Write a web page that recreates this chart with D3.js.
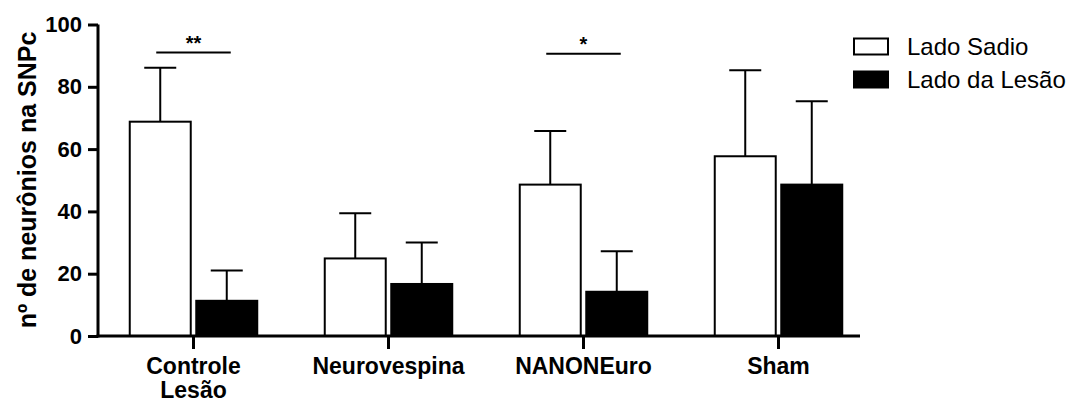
<!DOCTYPE html>
<html>
<head>
<meta charset="utf-8">
<script src="https://cdn.jsdelivr.net/npm/d3@7"></script>
<style>
  body { margin: 0; background: #fff; }
  svg { font-family: "Liberation Sans", Arial, sans-serif; }
  .axis path, .axis line { stroke: #000; stroke-width: 3; }
  .axis text { font-size: 22px; font-weight: bold; fill: #000; }
</style>
</head>
<body>
<svg width="1074" height="403"></svg>
<script>
// data
var categories = ['Controle\nLesão', 'Neurovespina', 'NANONEuro', 'Sham'];
var series = ['Lado Sadio', 'Lado da Lesão'];
var sadioMean = [68.8, 24.9, 48.6, 57.7];
var sadioErr = [17.3, 14.5, 17.2, 27.6];
var lesaoMean = [11.3, 16.7, 14.2, 48.6];
var lesaoErr = [9.7, 13.3, 13.0, 26.8];
var yTicks = [0, 20, 40, 60, 80, 100];
var sigGroups = ['Controle\nLesão', 'NANONEuro'];
var sigLabels = ['**', '*'];
var sigLevel = [91, 90.6];

var svg = d3.select('svg');

var x = d3.scaleBand().domain(categories).range([96, 876]);
var xSub = d3.scaleBand().domain(series).range([0, 127.5]).paddingInner(0.083);
var groupOffset = (x.bandwidth() - 127.5) / 2;
var y = d3.scaleLinear().domain([0, 100]).range([336, 24.5]);

var rows = [];
categories.forEach(function(c, i){
    rows.push({cat: c, s: series[0], v: sadioMean[i], e: sadioErr[i]});
    rows.push({cat: c, s: series[1], v: lesaoMean[i], e: lesaoErr[i]});
});

function barX(d) { return x(d.cat) + groupOffset + xSub(d.s); }

// error bars (upper only)
var err = svg.selectAll('.err').data(rows).enter().append('g')
    .attr('class', 'err')
    .attr('stroke', '#000').attr('stroke-width', 2);
err.append('line')
    .attr('x1', function(d){ return barX(d) + xSub.bandwidth()/2; })
    .attr('x2', function(d){ return barX(d) + xSub.bandwidth()/2; })
    .attr('y1', function(d){ return y(d.v); })
    .attr('y2', function(d){ return y(d.v + d.e); });
err.append('line')
    .attr('x1', function(d){ return barX(d) + xSub.bandwidth()/2 - 16; })
    .attr('x2', function(d){ return barX(d) + xSub.bandwidth()/2 + 16; })
    .attr('y1', function(d){ return y(d.v + d.e); })
    .attr('y2', function(d){ return y(d.v + d.e); });

// bars
svg.selectAll('.bar').data(rows).enter().append('rect')
    .attr('class', 'bar')
    .attr('x', barX)
    .attr('y', function(d){ return y(d.v); })
    .attr('width', xSub.bandwidth())
    .attr('height', function(d){ return y(0) - y(d.v); })
    .attr('fill', function(d){ return d.s == series[0] ? '#fff' : '#000'; })
    .attr('stroke', '#000')
    .attr('stroke-width', 2);

// axes
var yAxis = svg.append('g').attr('class', 'y axis')
    .attr('transform', 'translate(98,0)')
    .call(d3.axisLeft(y).tickValues(yTicks).tickSize(10).tickPadding(6).tickSizeOuter(0));
yAxis.select('.domain').attr('d', 'M0,' + y(100) + 'V' + (y(0) + 1.5));

var xAxis = svg.append('g').attr('class', 'x axis')
    .attr('transform', 'translate(0,336)')
    .call(d3.axisBottom(x).tickSize(13).tickPadding(9).tickSizeOuter(0));
xAxis.select('.domain').attr('d', 'M96.5,0H860');
xAxis.selectAll('text')
    .style('font-size', '23px')
    .text(null)
    .each(function(d){
        var t = d3.select(this);
        d.split('\n').forEach(function(part, i){
            t.append('tspan').attr('x', 0).attr('dy', i == 0 ? '0.71em' : '1.02em').text(part);
        });
    });

// significance
sigGroups.forEach(function(g, i){
    var left = x(g) + groupOffset + xSub(series[0]) + xSub.bandwidth()/2 - 4;
    var right = x(g) + groupOffset + xSub(series[1]) + xSub.bandwidth()/2 + 4;
    svg.append('line')
        .attr('x1', left).attr('x2', right)
        .attr('y1', y(sigLevel[i])).attr('y2', y(sigLevel[i]))
        .attr('stroke', '#000').attr('stroke-width', 2);
    svg.append('text')
        .attr('x', (left + right)/2)
        .attr('y', y(sigLevel[i]) - 3)
        .attr('text-anchor', 'middle')
        .style('font-size', '20px').style('font-weight', 'bold')
        .text(sigLabels[i]);
});

// y title
svg.append('text')
    .attr('transform', 'translate(36,180) rotate(-90)')
    .attr('text-anchor', 'middle')
    .style('font-size', '25px').style('font-weight', 'bold')
    .text('nº de neurônios na SNPc');

// legend
var legend = svg.selectAll('.legend').data(series).enter().append('g')
    .attr('class', 'legend')
    .attr('transform', function(d, i){ return 'translate(853,' + (46.5 + i*33) + ')'; });
legend.append('rect')
    .attr('x', 1).attr('y', -8).attr('width', 34).attr('height', 16)
    .attr('fill', function(d, i){ return i == 0 ? '#fff' : '#000'; })
    .attr('stroke', '#000').attr('stroke-width', 2);
legend.append('text')
    .attr('x', 54).attr('y', 8)
    .style('font-size', '24px')
    .text(function(d){ return d; });
</script>
</body>
</html>
